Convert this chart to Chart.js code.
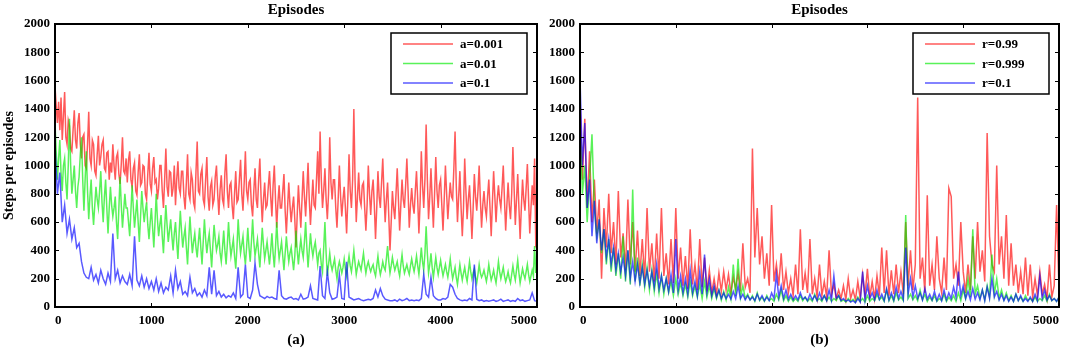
<!DOCTYPE html>
<html>
<head>
<meta charset="utf-8">
<script src="https://cdn.jsdelivr.net/npm/chart.js@4.4.0/dist/chart.umd.min.js"></script>
<style>
  html, body { margin: 0; padding: 0; background: #fff; }
  #wrap { position: relative; width: 1065px; height: 354px; }
  canvas { position: absolute; top: 0; }
  #chartA { left: 0; width: 545px; height: 354px; }
  #chartB { left: 530px; width: 535px; height: 354px; }
</style>
</head>
<body>
<div id="wrap">
  <canvas id="chartA" width="545" height="354"></canvas>
  <canvas id="chartB" width="535" height="354"></canvas>
</div>
<script>
// axes
const X_TICKS = [0, 1000, 2000, 3000, 4000, 5000];
const Y_TICKS = [0, 200, 400, 600, 800, 1000, 1200, 1400, 1600, 1800, 2000];
const LABELS_A = ["a=0.001", "a=0.01", "a=0.1"];
const LABELS_B = ["r=0.99", "r=0.999", "r=0.1"];

// (a) steps per episode, one sample every 12.5 episodes (fine) or 25 (coarse)
const stepsA001 = [
  1560,1420,1300,1450,1250,1480,1180,1350,1520,1200,1150,1320,1280,1120,1100,1250,1390,1180,1120,1300,
  1370,1150,1050,1200,1220,1000,980,1150,1380,1050,1000,1180,1150,960,930,1080,1210,1000,1060,1150,
  1180,980,960,1090,1100,900,1020,950,1150,1000,900,1060,1090,940,870,1010,1200,960,940,1050,
  880,1040,1100,900,850,980,1020,820,790,950,1080,860,880,1000,990,800,760,940,1090,870,
  820,980,1060,880,900,760,840,1000,1000,820,700,900,1120,850,780,960,950,780,840,1000,
  720,900,1030,840,800,960,960,780,690,880,1080,800,760,950,900,740,700,960,1170,820,
  800,940,980,760,720,900,1060,780,680,850,890,720,760,920,1000,800,650,830,930,760,
  720,950,1080,820,700,860,880,720,620,800,960,740,760,900,1040,800,680,880,1100,820,
  760,880,900,720,640,820,980,760,700,900,1050,780,600,760,880,700,720,850,960,780,
  640,860,1000,760,560,740,860,700,700,820,940,680,520,700,880,720,600,700,780,620,
  420,650,860,700,560,760,960,780,640,820,1020,760,580,740,900,720,700,900,1100,800,
  1240,900,700,820,980,760,620,800,1200,880,760,900,900,700,560,760,1000,780,640,760,
  850,700,520,760,1080,820,700,900,1400,900,600,780,950,760,720,860,880,700,540,720,
  1000,800,650,820,900,720,480,700,960,780,700,880,1050,800,600,760,880,640,400,600,
  820,700,620,800,980,760,540,720,900,760,700,860,1050,820,560,720,840,720,660,820,
  960,760,520,740,1100,860,700,900,1290,900,620,780,980,760,560,800,1060,820,700,860,
  900,720,540,760,1000,800,620,760,880,780,760,980,1240,860,600,780,960,700,500,700,
  1050,820,620,760,860,680,480,700,940,780,680,820,1000,760,560,720,820,700,640,780,
  900,700,500,740,960,780,600,760,860,760,700,840,1000,760,540,720,880,720,620,800,
  1130,840,580,760,940,700,480,700,900,760,680,840,1010,760,520,700,860,720,1050,420,
  960,700,420,640,880,760,560,800,1050,700,400,560,700
];
const stepsA01 = [
  1300,1100,900,1050,1180,950,820,1000,1050,880,760,1000,1330,1000,800,900,1000,820,700,850,
  920,1080,1200,900,680,900,1100,820,620,780,900,700,580,720,850,760,700,820,960,740,
  600,780,900,700,520,700,850,720,640,700,780,600,480,700,920,720,560,680,800,700,
  700,600,500,680,860,700,560,660,760,600,460,640,820,700,600,680,740,580,480,600,
  700,560,420,600,800,620,500,580,650,500,380,560,720,580,460,540,620,500,400,520,
  600,460,340,520,680,540,420,500,560,420,300,480,640,500,380,460,520,420,350,460,
  560,420,300,460,620,480,380,460,520,400,280,440,580,480,400,440,500,380,320,420,
  540,400,300,440,600,460,360,420,480,360,270,420,620,480,380,440,500,380,300,420,
  560,420,320,460,620,460,360,420,480,380,280,420,560,440,340,400,460,380,300,400,
  520,380,280,420,600,440,340,400,460,360,260,380,500,400,320,380,420,340,260,360,
  540,400,300,400,480,400,350,460,600,420,280,400,520,420,360,420,460,380,300,380,
  400,300,250,420,600,380,220,300,380,300,260,300,340,260,200,280,320,280,240,280,
  340,270,220,300,360,290,250,320,400,310,230,280,320,290,260,320,380,300,240,290,
  320,280,250,280,300,250,220,290,360,280,230,270,320,280,260,340,430,320,240,290,
  350,300,260,290,320,260,220,300,370,290,240,270,300,260,230,290,340,290,250,300,
  360,290,230,320,420,320,260,380,570,380,240,300,380,280,210,280,350,280,230,280,
  330,270,220,260,300,250,210,270,340,260,200,240,280,210,160,230,300,240,190,240,
  280,220,180,250,320,250,200,240,270,210,170,230,300,240,210,230,260,220,180,230,
  300,240,190,220,260,210,170,240,320,250,200,240,280,220,180,210,250,200,170,230,
  290,230,190,260,330,240,170,220,270,230,200,250,300,230,180,220,260,220,430,240,
  320,250,200,240,280,210,170,260,430,300,210,230,250
];
const stepsA1 = [
  1150,800,950,600,720,520,620,480,560,420,
  450,320,240,210,200,280,190,230,170,260,
  200,160,240,180,520,200,260,170,220,180,
  160,230,150,500,190,150,220,140,200,130,
  180,120,200,110,170,100,140,120,220,100,
  260,130,180,90,110,80,210,100,130,80,
  100,70,120,80,280,90,260,80,110,70,
  90,65,80,70,100,60,280,70,90,300,
  70,60,120,310,160,80,70,60,75,65,
  70,60,55,260,80,60,55,65,70,55,
  60,50,90,55,60,70,150,60,55,50,
  290,80,60,250,100,55,60,70,230,60,
  55,320,70,60,50,55,60,50,45,50,
  55,50,60,120,70,130,80,55,50,45,
  45,50,40,55,45,50,60,45,50,45,
  50,45,60,230,90,70,210,80,60,50,
  50,60,55,70,160,140,90,60,50,45,
  50,45,60,50,300,55,45,50,40,45,
  40,45,50,40,45,55,40,45,50,40,
  45,40,60,45,50,40,45,50,100,45,
  40,45,50,40,100,45,40
];

// (b)
const stepsR099 = [
  1500,900,1330,700,1100,600,900,520,760,200,
  700,420,800,380,600,300,820,350,520,260,
  760,300,600,250,540,220,480,200,700,250,
  450,180,520,200,700,220,380,160,480,170,
  700,200,420,150,360,130,550,160,300,120,
  480,140,350,110,260,100,200,90,240,110,
  250,120,230,100,210,130,240,110,450,140,
  200,100,1120,350,700,300,500,200,380,150,
  720,180,300,150,380,120,250,100,200,80,
  300,90,550,120,240,100,480,90,200,70,
  300,80,180,70,400,90,160,60,120,60,
  150,50,200,60,120,50,180,60,230,80,
  270,70,180,60,220,80,420,100,400,80,
  260,90,300,100,250,90,600,150,400,120,
  300,1480,200,350,100,790,150,300,120,500,
  200,100,350,120,840,780,200,300,150,600,
  250,100,300,120,500,200,600,250,400,180,
  1230,500,300,250,1000,300,500,200,650,150,
  450,150,300,100,250,90,350,80,300,70,
  200,80,250,90,160,60,300,70,150,720,
  120,50,100,60,180,700,200
];
const stepsR0999 = [
  1300,800,1000,600,900,1220,700,500,600,380,
  550,300,480,250,420,220,380,200,500,180,
  400,160,830,180,350,150,300,140,280,120,
  260,110,240,100,220,90,200,100,180,80,
  200,90,170,80,160,70,180,80,150,70,
  160,60,180,70,150,60,130,60,120,50,
  110,50,140,60,300,80,340,70,150,60,
  90,50,80,40,100,45,70,40,80,45,
  60,40,90,50,120,45,80,40,70,40,
  60,40,80,45,70,40,60,40,90,45,
  60,40,80,45,70,40,60,45,80,40,
  50,35,60,40,55,35,70,40,60,35,
  80,40,60,45,90,50,70,40,120,45,
  80,40,100,50,70,45,650,60,90,50,
  80,45,120,50,90,40,70,45,80,40,
  60,45,90,40,70,45,80,40,100,45,
  120,60,200,70,550,90,150,60,120,50,
  150,70,370,90,200,60,120,50,100,45,
  80,40,90,45,70,40,80,45,60,40,
  70,40,60,45,80,40,90,45,60,40,
  70,40,60,45,50,40,45
];
const stepsR01 = [
  1620,1000,1300,700,900,500,750,450,620,400,
  550,350,480,300,420,260,380,250,350,220,
  400,200,320,180,300,170,280,160,260,150,
  250,140,300,130,220,120,200,110,230,100,
  480,120,220,100,200,90,260,100,180,80,
  250,90,370,100,200,80,150,70,120,60,
  100,60,90,55,110,60,150,60,90,50,
  80,50,70,45,90,50,80,45,70,45,
  100,60,230,70,150,60,120,55,90,50,
  80,50,100,55,70,45,90,50,80,45,
  100,50,80,45,120,50,220,60,80,45,
  60,40,50,35,45,30,60,35,250,50,
  150,60,100,50,120,55,90,45,130,50,
  100,50,140,60,110,55,420,90,200,70,
  150,60,100,50,130,55,90,50,110,45,
  90,45,120,50,100,60,140,70,250,80,
  150,60,110,50,130,55,100,50,120,45,
  140,60,200,70,110,50,90,45,80,40,
  70,40,90,45,80,40,60,40,70,40,
  90,45,220,60,120,50,80,45,60,40,
  70,40,60,45,50,40,50
];

const COLORS = ["rgba(255,0,0,0.65)", "rgba(0,235,0,0.65)", "rgba(0,0,255,0.65)"];
const FONT = "'Liberation Serif', 'Times New Roman', serif";

Chart.defaults.font.family = FONT;
Chart.defaults.font.size = 13;
Chart.defaults.font.weight = "bold";
Chart.defaults.color = "#000";

// samples are taken every `step` episodes; the tail past 5000 is clipped
function toPoints(values, step) {
  return values.map((v, i) => ({ x: i * step, y: v }));
}

// frame, inward tick marks, boxed legend, top/bottom captions
const panelDecor = {
  id: "panelDecor",
  afterDatasetsDraw(chart, args, opts) {
    const { ctx, chartArea: a, scales } = chart;
    ctx.save();
    ctx.strokeStyle = "#000";
    ctx.lineWidth = 1;
    ctx.beginPath();
    X_TICKS.forEach((v) => {
      const px = Math.round(scales.x.getPixelForValue(v)) + 0.5;
      ctx.moveTo(px, a.bottom); ctx.lineTo(px, a.bottom - 4);
      ctx.moveTo(px, a.top); ctx.lineTo(px, a.top + 4);
    });
    Y_TICKS.forEach((v) => {
      const py = Math.round(scales.y.getPixelForValue(v)) + 0.5;
      ctx.moveTo(a.left, py); ctx.lineTo(a.left + 4, py);
      ctx.moveTo(a.right, py); ctx.lineTo(a.right - 4, py);
    });
    ctx.stroke();
    ctx.lineWidth = 2;
    ctx.strokeRect(a.left, a.top, a.right - a.left, a.bottom - a.top);

    // legend
    const bx = a.right - 146, by = a.top + 9, bw = 136, bh = 61;
    ctx.fillStyle = "#fff";
    ctx.fillRect(bx, by, bw, bh);
    ctx.lineWidth = 1.5;
    ctx.strokeRect(bx, by, bw, bh);
    ctx.font = "bold 13px " + FONT;
    ctx.textAlign = "left";
    ctx.textBaseline = "middle";
    chart.data.datasets.forEach((ds, i) => {
      const ry = by + 11 + i * 19.5;
      ctx.strokeStyle = ds.borderColor;
      ctx.lineWidth = 1.5;
      ctx.beginPath();
      ctx.moveTo(bx + 12, ry); ctx.lineTo(bx + 62, ry);
      ctx.stroke();
      ctx.fillStyle = "#000";
      ctx.fillText(ds.label, bx + 69, ry + 1);
    });

    const cx = (a.left + a.right) / 2;
    ctx.textAlign = "center";
    ctx.font = "bold 15px " + FONT;
    ctx.fillText(opts.title, cx, 10);
    ctx.fillText(opts.caption, cx, 340);
    ctx.restore();
  }
};

function makePanel(canvasId, labels, series, steps, caption, yTitle, axisWidth, padRight) {
  const ctx = document.getElementById(canvasId).getContext("2d");
  return new Chart(ctx, {
    type: "line",
    data: {
      datasets: series.map((vals, i) => ({
        label: labels[i],
        data: toPoints(vals, steps[i]),
        borderColor: COLORS[i],
        borderWidth: 1.5,
        pointRadius: 0,
        tension: 0,
        order: 3 - i
      }))
    },
    options: {
      responsive: false,
      animation: false,
      parsing: false,
      layout: { padding: { top: 24, right: padRight, left: 0, bottom: 0 } },
      plugins: {
        legend: { display: false },
        tooltip: { enabled: false },
        panelDecor: { title: "Episodes", caption: caption }
      },
      scales: {
        x: {
          type: "linear",
          min: 0,
          max: 5000,
          afterBuildTicks: (s) => { s.ticks = X_TICKS.map((v) => ({ value: v })); },
          afterFit: (s) => { s.height = 47; },
          grid: { display: false, drawTicks: false },
          border: { display: false },
          ticks: { align: "inner", padding: 6, maxRotation: 0, callback: (v) => String(v) }
        },
        y: {
          min: 0,
          max: 2000,
          afterBuildTicks: (s) => { s.ticks = Y_TICKS.map((v) => ({ value: v })); },
          afterFit: (s) => { s.width = axisWidth; },
          grid: { display: false, drawTicks: false },
          border: { display: false },
          ticks: { padding: 5, callback: (v) => String(v) },
          title: {
            display: !!yTitle,
            text: yTitle,
            font: { size: 14, weight: "bold" },
            padding: { top: 1, bottom: 0 }
          }
        }
      }
    },
    plugins: [panelDecor]
  });
}

makePanel("chartA", LABELS_A, [stepsA001, stepsA01, stepsA1], [12.5, 12.5, 25], "(a)", "Steps per episodes", 55, 8);
makePanel("chartB", LABELS_B, [stepsR099, stepsR0999, stepsR01], [25, 25, 25], "(b)", "", 50, 3);
</script>
</body>
</html>
